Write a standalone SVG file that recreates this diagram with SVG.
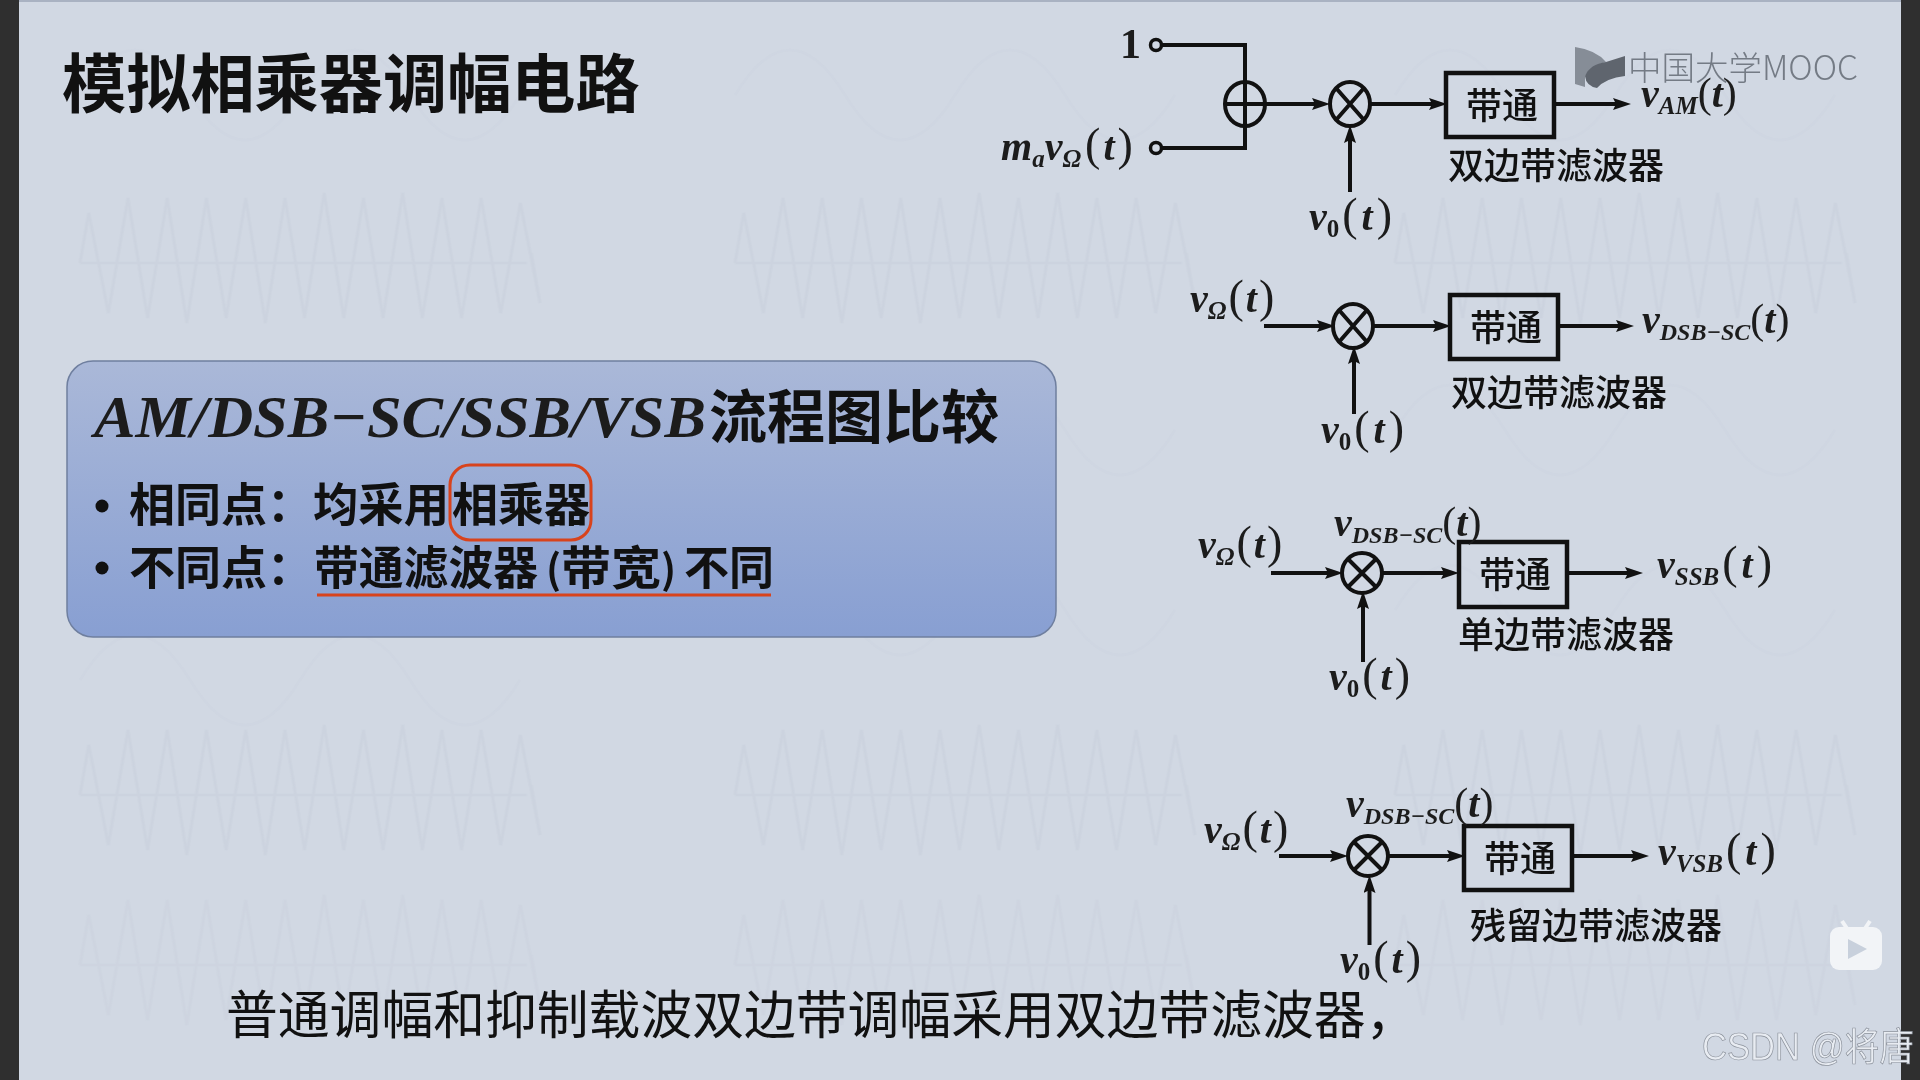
<svg xmlns="http://www.w3.org/2000/svg" width="1920" height="1080" viewBox="0 0 1920 1080">
<style>
.cn{font-family:"Noto Sans CJK SC","Noto Sans",sans-serif;fill:#111}
.lb{font-size:36px;font-weight:500}
.bx{font-size:46px;font-weight:700}
.m{font-family:"Liberation Serif",serif;font-weight:700;font-style:italic;font-size:40px;fill:#1c1c1c}
.m .u{font-style:normal;font-weight:400;font-size:46px}
.m .c{font-style:normal;font-weight:400;font-size:42px}
.m .s{font-size:25px}
.m .d{font-size:24px}
.m .n{font-size:25px;font-style:normal}
.ln{fill:none;stroke:#111;stroke-width:4}
.ar{fill:none;stroke:#111;stroke-width:4;marker-end:url(#ah)}
.box{fill:none;stroke:#111;stroke-width:4.500}
.op{fill:none;stroke:#111;stroke-width:4}
.wave{fill:none;stroke:#c3cad7;stroke-width:2.500}
</style>
<defs>
<marker id="ah" markerUnits="userSpaceOnUse" markerWidth="18" markerHeight="12" refX="8" refY="6" orient="auto"><path d="M0 0L18 6L0 12L3 6Z" fill="#111"/></marker>
<linearGradient id="panel" x1="0" y1="0" x2="0" y2="1"><stop offset="0" stop-color="#aab8d8"/><stop offset="1" stop-color="#889fd2"/></linearGradient>
<path id="zig" class="wave" transform="scale(1.09 1)" d="M0 0l8-50 18 100 18-115 18 120 18-120 18 125 18-125 18 120 18-120 18 125 18-125 18 120 18-125 18 125 18-120 18 120 18-125 18 125 18-120 18 120 18-120 18 115 18-110 18 100-8-50M0 0h410"/>
<path id="sw" class="wave" d="M0 0q55-90 110 0t110 0 110 0 110 0"/>
</defs>
<rect id="bg" width="1920" height="1080" fill="#d1d8e3"/>
<g id="background-waves">
<g opacity=".12">
<use href="#sw" x="80" y="95"/><use href="#sw" x="735" y="95"/><use href="#sw" x="1395" y="95"/>
<use href="#sw" x="735" y="430"/><use href="#sw" x="1395" y="430"/>
<use href="#sw" x="80" y="680"/><use href="#sw" x="735" y="610"/><use href="#sw" x="1395" y="610"/>
</g>
<g opacity=".32">
<use href="#zig" x="80" y="263"/><use href="#zig" x="735" y="263"/><use href="#zig" x="1395" y="263"/>
<use href="#zig" x="80" y="795"/><use href="#zig" x="735" y="795"/><use href="#zig" x="1395" y="795"/>
</g>
<g opacity=".22">
<use href="#zig" x="80" y="965"/><use href="#zig" x="735" y="965"/><use href="#zig" x="1395" y="965"/>
</g>
</g>
<rect x="0" y="0" width="19" height="1080" fill="#2f2f2f"/>
<rect x="1901" y="0" width="19" height="1080" fill="#2f2f2f"/>
<rect x="19" y="0" width="1882" height="2" fill="#a9b2c2"/>

<text id="title" class="cn" x="62" y="107" font-size="64.200" font-weight="700">模拟相乘器调幅电路</text>

<g id="panel-box">
<rect x="67" y="361" width="989" height="276" rx="26" fill="url(#panel)" stroke="#6f7f9f" stroke-width="1.500"/>
<text class="m" x="94" y="437" style="font-size:60px" textLength="612" lengthAdjust="spacingAndGlyphs">AM/DSB−SC/SSB/VSB</text>
<text class="cn" x="709" y="438" font-size="58" font-weight="700">流程图比较</text>
<circle cx="102" cy="506" r="6.500" fill="#111"/>
<text class="cn bx" x="129" y="521">相同点：</text>
<text class="cn bx" x="313" y="521" textLength="136" lengthAdjust="spacingAndGlyphs">均采用</text>
<text class="cn bx" x="452" y="521" textLength="138" lengthAdjust="spacingAndGlyphs">相乘器</text>
<rect x="450" y="465" width="141" height="75" rx="20" fill="none" stroke="#d8431c" stroke-width="3"/>
<circle cx="102" cy="568" r="6.500" fill="#111"/>
<text class="cn bx" x="129" y="584">不同点：</text>
<text class="cn bx" x="314" y="584" textLength="224" lengthAdjust="spacingAndGlyphs">带通滤波器</text>
<text class="cn bx" x="546" y="584" style="font-size:40px">(</text>
<text class="cn bx" x="561" y="584" textLength="100" lengthAdjust="spacingAndGlyphs">带宽</text>
<text class="cn bx" x="661" y="584" style="font-size:40px">)</text>
<text class="cn bx" x="684" y="584" textLength="90" lengthAdjust="spacingAndGlyphs">不同</text>
<path d="M317 595H771" stroke="#d8431c" stroke-width="3" fill="none"/>
</g>

<g id="connectors">
<path class="ln" d="M1161 45H1245V148H1161"/>
<path class="ar" d="M1265 104H1320"/>
<path class="ar" d="M1370 104H1437"/>
<path class="ar" d="M1556 104H1621"/>
<path class="ar" d="M1350 192V135"/>

<path class="ar" d="M1264 326H1325"/>
<path class="ar" d="M1373 326H1441"/>
<path class="ar" d="M1560 326H1624"/>
<path class="ar" d="M1354 414V356"/>

<path class="ar" d="M1271 573H1333"/>
<path class="ar" d="M1382 573H1449"/>
<path class="ar" d="M1568 573H1633"/>
<path class="ar" d="M1363 662V601"/>

<path class="ar" d="M1279 856H1338"/>
<path class="ar" d="M1389 856H1455"/>
<path class="ar" d="M1574 856H1639"/>
<path class="ar" d="M1369.500 945V885"/>
</g>

<g id="am-chain">
<g id="am-in1"><circle cx="1156" cy="45" r="5.500" fill="none" stroke="#111" stroke-width="3.500"/><text class="m" x="1120" y="58" style="font-size:42px;font-style:normal">1</text></g>
<g id="am-in2"><circle cx="1156" cy="148" r="5.500" fill="none" stroke="#111" stroke-width="3.500"/>
<text class="m" x="1001" y="160">m<tspan class="s" dy="7">a</tspan><tspan dy="-7">v</tspan><tspan class="s" dy="7">Ω</tspan><tspan class="u" dy="-7" dx="4">(</tspan><tspan dx="3">t</tspan><tspan class="u" dx="3">)</tspan></text></g>
<g id="am-sum"><ellipse class="op" cx="1245" cy="104" rx="20" ry="22"/><path class="op" d="M1225 104H1265M1245 82V126"/></g>
<g id="am-mul"><ellipse class="op" cx="1350" cy="104" rx="20" ry="22"/><path class="op" d="M1336 88L1364 120M1364 88L1336 120"/></g>
<g id="am-bp"><rect class="box" x="1446" y="73" width="108" height="64"/><text class="cn lb" x="1466" y="119">带通</text></g>
<text class="cn lb" x="1448" y="179">双边带滤波器</text>
<text class="m" x="1641" y="107">v<tspan class="s" dy="7">AM</tspan><tspan class="c" dy="-7">(</tspan>t<tspan class="c">)</tspan></text>
<text class="m" x="1309" y="230">v<tspan class="n" dy="7">0</tspan><tspan class="u" dy="-7" dx="3">(</tspan><tspan dx="4">t</tspan><tspan class="u" dx="4">)</tspan></text>
</g>

<g id="dsb-chain">
<g id="dsb-mul"><ellipse class="op" cx="1353" cy="326" rx="20" ry="22"/><path class="op" d="M1339 310L1367 342M1367 310L1339 342"/></g>
<g id="dsb-bp"><rect class="box" x="1450" y="295" width="108" height="64"/><text class="cn lb" x="1470" y="341">带通</text></g>
<text class="cn lb" x="1451" y="406">双边带滤波器</text>
<text class="m" x="1190" y="312">v<tspan class="s" dy="7">Ω</tspan><tspan class="u" dy="-7" dx="2">(</tspan><tspan dx="2">t</tspan><tspan class="u" dx="2">)</tspan></text>
<text class="m" x="1642" y="333">v<tspan class="d" dy="7">DSB−SC</tspan><tspan class="c" dy="-7">(</tspan>t<tspan class="c">)</tspan></text>
<text class="m" x="1321" y="443">v<tspan class="n" dy="7">0</tspan><tspan class="u" dy="-7" dx="3">(</tspan><tspan dx="4">t</tspan><tspan class="u" dx="4">)</tspan></text>
</g>

<g id="ssb-chain">
<g id="ssb-mul"><ellipse class="op" cx="1362" cy="573" rx="20" ry="20"/><path class="op" d="M1348 559L1376 587M1376 559L1348 587"/></g>
<g id="ssb-bp"><rect class="box" x="1459" y="542" width="108" height="65"/><text class="cn lb" x="1479" y="588">带通</text></g>
<text class="cn lb" x="1458" y="648">单边带滤波器</text>
<text class="m" x="1198" y="558">v<tspan class="s" dy="7">Ω</tspan><tspan class="u" dy="-7" dx="2">(</tspan><tspan dx="2">t</tspan><tspan class="u" dx="2">)</tspan></text>
<text class="m" x="1334" y="536">v<tspan class="d" dy="7">DSB−SC</tspan><tspan class="c" dy="-7">(</tspan>t<tspan class="c">)</tspan></text>
<text class="m" x="1657" y="578">v<tspan class="s" dy="7">SSB</tspan><tspan class="u" dy="-7" dx="3">(</tspan><tspan dx="4">t</tspan><tspan class="u" dx="4">)</tspan></text>
<text class="m" x="1329" y="690">v<tspan class="n" dy="7">0</tspan><tspan class="u" dy="-7" dx="3">(</tspan><tspan dx="3">t</tspan><tspan class="u" dx="3">)</tspan></text>
</g>

<g id="vsb-chain">
<g id="vsb-mul"><ellipse class="op" cx="1368" cy="856" rx="20" ry="20"/><path class="op" d="M1354 842L1382 870M1382 842L1354 870"/></g>
<g id="vsb-bp"><rect class="box" x="1464" y="826" width="108" height="64"/><text class="cn lb" x="1484" y="872">带通</text></g>
<text class="cn lb" x="1470" y="939">残留边带滤波器</text>
<text class="m" x="1204" y="843">v<tspan class="s" dy="7">Ω</tspan><tspan class="u" dy="-7" dx="2">(</tspan><tspan dx="2">t</tspan><tspan class="u" dx="2">)</tspan></text>
<text class="m" x="1346" y="817">v<tspan class="d" dy="7">DSB−SC</tspan><tspan class="c" dy="-7">(</tspan>t<tspan class="c">)</tspan></text>
<text class="m" x="1658" y="865">v<tspan class="s" dy="7">VSB</tspan><tspan class="u" dy="-7" dx="3">(</tspan><tspan dx="4">t</tspan><tspan class="u" dx="4">)</tspan></text>
<text class="m" x="1340" y="973">v<tspan class="n" dy="7">0</tspan><tspan class="u" dy="-7" dx="3">(</tspan><tspan dx="3">t</tspan><tspan class="u" dx="3">)</tspan></text>
</g>

<text id="subtitle" class="cn" x="226" y="1034" font-size="51.800" fill="#1a1a1a">普通调幅和抑制载波双边带调幅采用双边带滤波器，</text>

<g id="mooc-logo">
<path d="M1575 47Q1596 50 1606 62Q1590 66 1585 76V87L1575 84Z" fill="#868d97"/>
<path d="M1585 76Q1590 64 1606 62L1625 56V76Q1606 78 1597 88Q1586 86 1585 76Z" fill="#5f656e"/>
<text x="1628" y="80" font-family="Noto Sans CJK SC,Noto Sans,sans-serif" font-size="33.500" font-weight="300" fill="#747b85">中国大学MOOC</text>
</g>

<g id="play-badge">
<path d="M1842 921L1848 930M1870 921L1864 930" stroke="#f2f4f7" stroke-width="4" fill="none"/>
<rect x="1830" y="927" width="52" height="43" rx="9" fill="#f2f4f7"/>
<path d="M1848 939L1867 949L1848 959Z" fill="#c8d0dc"/>
</g>
<text id="csdn" x="1702" y="1060" font-family="Liberation Sans,Noto Sans CJK SC,sans-serif" font-size="38" fill="#e8ecf2" stroke="#8b919b" stroke-width=".7" textLength="212" lengthAdjust="spacingAndGlyphs">CSDN @将唐</text>
</svg>
